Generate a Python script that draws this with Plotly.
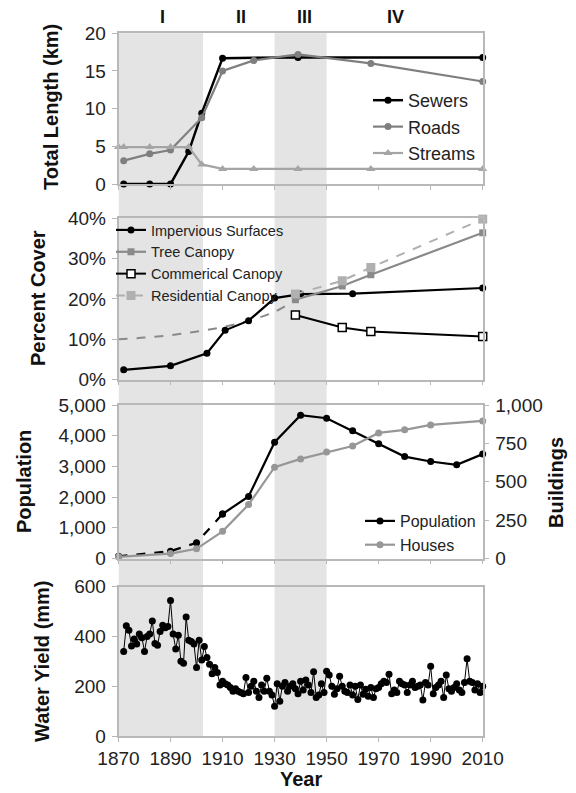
import plotly.graph_objects as go

W, H = 576, 793
OFF = 8  # page body margin of the html page
FONT = "Liberation Sans, Arial, sans-serif"

# ---------------- data ----------------
# Panel 1: total length (km)
sewer_years = [1872, 1882, 1890, 1897, 1902, 1910, 1939, 2010]
sewer_km = [0, 0, 0, 4.3, 9.4, 16.7, 16.8, 16.8]
road_years = [1872, 1882, 1890, 1902, 1910, 1922, 1939, 1967, 2010]
road_km = [3.1, 4.0, 4.5, 8.8, 15.0, 16.4, 17.2, 16.0, 13.6]
stream_years = [1870, 1872, 1882, 1890, 1897, 1902, 1910, 1922, 1939, 1967, 2010]
stream_km = [4.9, 4.9, 4.9, 4.9, 4.9, 2.6, 2.0, 2.0, 2.0, 2.0, 2.0]

# Panel 2: percent cover
imperv_years = [1872, 1890, 1904, 1911, 1920, 1930, 1940, 1960, 2010]
imperv_pct = [2.4, 3.4, 6.5, 12.2, 14.6, 20.2, 21.2, 21.3, 22.7]
tree_years = [1938, 1956, 1967, 2010]
tree_pct = [19.8, 23.2, 26.0, 36.4]
tree_early_years = [1870, 1880, 1890, 1900, 1910, 1920, 1930, 1938]
tree_early_pct = [10.0, 10.4, 11.0, 11.9, 13.0, 14.6, 16.8, 19.8]
comm_years = [1938, 1956, 1967, 2010]
comm_pct = [16.0, 12.9, 11.9, 10.7]
resid_years = [1938, 1956, 1967, 2010]
resid_pct = [21.2, 24.5, 27.8, 39.8]

# Panel 3: population and houses
pop_years = [1870, 1890, 1900, 1910, 1920, 1930, 1940, 1950, 1960, 1970, 1980, 1990, 2000, 2010]
population = [70, 240, 510, 1450, 2020, 3790, 4670, 4570, 4160, 3740, 3320, 3160, 3050, 3400]
house_years = [1870, 1890, 1900, 1910, 1920, 1930, 1940, 1950, 1960, 1970, 1980, 1990, 2010]
houses = [11, 32, 63, 177, 351, 595, 649, 693, 733, 818, 838, 870, 896]

# Panel 4: annual water yield (mm), 1872-2010
wy_start = 1872
water_yield = [
    340, 443, 425, 362, 390, 370, 410, 395, 340, 400,   # 1872-1881
    410, 462, 372, 365, 420, 445, 435, 440, 545, 410,   # 1882-1891
    350, 405, 300, 292, 478, 385, 380, 370, 275, 385,   # 1892-1901
    305, 360, 315, 288, 250, 275, 255, 205, 220, 210,   # 1902-1911
    205, 195, 180, 190, 180, 175, 170, 235, 175, 200,   # 1912-1921
    220, 180, 155, 205, 180, 232, 180, 165, 120, 210,   # 1922-1931
    140, 200, 215, 180, 200, 210, 190, 170, 220, 185,   # 1932-1941
    225, 205, 175, 258, 155, 165, 210, 175, 260, 245,   # 1942-1951
    200, 168, 190, 240, 200, 180, 175, 205, 165, 200,   # 1952-1961
    147, 205, 168, 188, 160, 195, 155, 190, 195, 210,   # 1962-1971
    220, 215, 248, 170, 185, 175, 220, 210, 205, 175,   # 1972-1981
    205, 220, 195, 200, 205, 145, 215, 205, 280, 170,   # 1982-1991
    195, 205, 220, 155, 245, 190, 180, 195, 210, 185,   # 1992-2001
    175, 215, 310, 220, 215, 185, 210, 175, 200,        # 2002-2010
]
wy_years = [wy_start + i for i in range(len(water_yield))]

period_labels = ["I", "II", "III", "IV"]
period_label_years = [1887, 1917, 1941.5, 1976.5]
shade_periods = [(1870, 1902.5), (1930, 1950)]

# ---------------- layout geometry (screen pixels -> paper fractions) ----------------
def px_x(p):
    return (p - OFF) / W

def px_y(p):
    return 1 - (p - OFF) / H

xd = [px_x(118.5), px_x(482.7)]
dom1 = [px_y(184), px_y(33.3)]
dom2 = [px_y(379.5), px_y(218.3)]
dom3 = [px_y(558.5), px_y(405)]
dom4 = [px_y(736), px_y(586.7)]

AX = "#b8b8b8"
BLACK = "#000000"
ROAD = "#7f7f7f"
STREAM = "#a5a5a5"
TREE = "#8a8a8a"
RESID = "#b0b0b0"
HOUSE = "#979797"

fig = go.Figure()

# Panel 1
fig.add_trace(go.Scatter(x=sewer_years, y=sewer_km, name="Sewers", mode="lines+markers",
                         line=dict(color=BLACK, width=2.5), marker=dict(symbol="circle", size=7, color=BLACK),
                         xaxis="x", yaxis="y", legend="legend", cliponaxis=False))
fig.add_trace(go.Scatter(x=road_years, y=road_km, name="Roads", mode="lines+markers",
                         line=dict(color=ROAD, width=2.2), marker=dict(symbol="circle", size=7, color=ROAD),
                         xaxis="x", yaxis="y", legend="legend", cliponaxis=False))
fig.add_trace(go.Scatter(x=stream_years, y=stream_km, name="Streams", mode="lines+markers",
                         line=dict(color=STREAM, width=2.2), marker=dict(symbol="triangle-up", size=8, color=STREAM),
                         xaxis="x", yaxis="y", legend="legend", cliponaxis=False))

# Panel 2
fig.add_trace(go.Scatter(x=tree_early_years, y=tree_early_pct, mode="lines", showlegend=False,
                         line=dict(color=TREE, width=2, dash="dash", shape="spline"),
                         xaxis="x2", yaxis="y2", cliponaxis=False))
fig.add_trace(go.Scatter(x=imperv_years, y=imperv_pct, name="Impervious Surfaces", mode="lines+markers",
                         line=dict(color=BLACK, width=2.2), marker=dict(symbol="circle", size=7, color=BLACK),
                         xaxis="x2", yaxis="y2", legend="legend2", cliponaxis=False))
fig.add_trace(go.Scatter(x=tree_years, y=tree_pct, name="Tree Canopy", mode="lines+markers",
                         line=dict(color=TREE, width=2.2), marker=dict(symbol="square", size=7, color=TREE),
                         xaxis="x2", yaxis="y2", legend="legend2", cliponaxis=False))
fig.add_trace(go.Scatter(x=comm_years, y=comm_pct, name="Commerical Canopy", mode="lines+markers",
                         line=dict(color=BLACK, width=2),
                         marker=dict(symbol="square", size=8, color="white", line=dict(color=BLACK, width=1.5)),
                         xaxis="x2", yaxis="y2", legend="legend2", cliponaxis=False))
fig.add_trace(go.Scatter(x=resid_years, y=resid_pct, name="Residential Canopy", mode="lines+markers",
                         line=dict(color=RESID, width=2, dash="dash"),
                         marker=dict(symbol="square", size=9, color=RESID),
                         xaxis="x2", yaxis="y2", legend="legend2", cliponaxis=False))

# Panel 3
n_dash = pop_years.index(1910) + 1
fig.add_trace(go.Scatter(x=pop_years[:n_dash], y=population[:n_dash], mode="lines+markers", showlegend=False,
                         line=dict(color=BLACK, width=2.2, dash="dash"), marker=dict(symbol="circle", size=7, color=BLACK),
                         xaxis="x3", yaxis="y3", cliponaxis=False))
fig.add_trace(go.Scatter(x=pop_years[n_dash - 1:], y=population[n_dash - 1:], name="Population", mode="lines+markers",
                         line=dict(color=BLACK, width=2.2), marker=dict(symbol="circle", size=7, color=BLACK),
                         xaxis="x3", yaxis="y3", legend="legend3", cliponaxis=False))
fig.add_trace(go.Scatter(x=house_years, y=houses, name="Houses", mode="lines+markers",
                         line=dict(color=HOUSE, width=2.2), marker=dict(symbol="circle", size=7, color=HOUSE),
                         xaxis="x3", yaxis="y5", legend="legend3", cliponaxis=False))

# Panel 4
fig.add_trace(go.Scatter(x=wy_years, y=water_yield, mode="lines+markers", showlegend=False,
                         line=dict(color=BLACK, width=1), marker=dict(symbol="circle", size=7, color=BLACK),
                         xaxis="x4", yaxis="y4", cliponaxis=False))

tickfont = dict(family=FONT, size=19, color="#222")

def xax(domain_anchor, labels):
    return dict(domain=xd, anchor=domain_anchor, range=[1870, 2010], tick0=1870, dtick=20,
                showticklabels=labels, ticks="outside", ticklen=4, tickcolor=AX, tickwidth=1.2,
                showline=True, linecolor=AX, linewidth=1.5, mirror=True, showgrid=False, zeroline=False,
                tickfont=tickfont, ticklabelstandoff=0, automargin=False)

def yax(dom, anchor, rng, dtick, **kw):
    d = dict(domain=dom, anchor=anchor, range=rng, dtick=dtick, ticks="outside", ticklen=5, tickcolor=AX,
             tickwidth=1.2, showline=True, linecolor=AX, linewidth=1.5, mirror=True, showgrid=False,
             zeroline=False, tickfont=tickfont, ticklabelstandoff=2, automargin=False)
    d.update(kw)
    return d

shapes = []
for (a, b) in shade_periods:
    shapes.append(dict(type="rect", xref="x4", yref="paper", x0=a, x1=b, y0=px_y(736), y1=px_y(33.3),
                       fillcolor="#e4e4e4", line=dict(width=0), layer="below"))

annotations = []
for lab, yr in zip(period_labels, period_label_years):
    annotations.append(dict(text="<b>%s</b>" % lab, x=yr, y=px_y(17), xref="x", yref="paper",
                            xanchor="center", yanchor="middle",
                            showarrow=False, font=dict(family=FONT, size=18, color="#111")))

def ytitle(text, xpx, ypx, angle=-90):
    return dict(text="<b>%s</b>" % text, x=px_x(xpx), y=px_y(ypx), xref="paper", yref="paper",
                xanchor="center", yanchor="middle",
                showarrow=False, textangle=angle, font=dict(family=FONT, size=20, color="#111"))

annotations += [
    ytitle("Total Length (km)", 51, 107),
    ytitle("Percent Cover", 38, 298),
    ytitle("Population", 24, 482),
    ytitle("Buildings", 556, 483),
    ytitle("Water Yield (mm)", 42, 661),
    ytitle("Year", (118.5 + 482.7) / 2, 779, angle=0),
]

legend_common = dict(bgcolor="rgba(0,0,0,0)", borderwidth=0, xanchor="left", yanchor="top",
                     itemwidth=30, traceorder="normal")

fig.update_layout(
    width=W, height=H, margin=dict(l=0, r=0, t=0, b=0, pad=0, autoexpand=False),
    paper_bgcolor="white", plot_bgcolor="rgba(0,0,0,0)",
    font=dict(family=FONT, color="#222"),
    xaxis=xax("y", False),
    xaxis2=xax("y2", False),
    xaxis3=xax("y3", False),
    xaxis4=xax("y4", True),
    yaxis=yax(dom1, "x", [0, 20], 5),
    yaxis2=yax(dom2, "x2", [0, 40], 10, ticksuffix="%"),
    yaxis3=yax(dom3, "x3", [0, 5000], 1000, tickformat=","),
    yaxis5=dict(overlaying="y3", side="right", anchor="x3", range=[0, 1000], dtick=250, tickformat=",",
                ticks="outside", ticklen=5, tickcolor=AX, showline=True, linecolor=AX, linewidth=1.5,
                showgrid=False, zeroline=False, tickfont=tickfont, ticklabelstandoff=2, automargin=False),
    yaxis4=yax(dom4, "x4", [0, 600], 200),
    legend=dict(x=px_x(368), y=px_y(82), font=dict(family=FONT, size=18, color="#222"), **legend_common),
    legend2=dict(x=px_x(111), y=px_y(214), font=dict(family=FONT, size=14.5, color="#222"), **legend_common),
    legend3=dict(x=px_x(360), y=px_y(504), font=dict(family=FONT, size=16, color="#222"), **legend_common),
    shapes=shapes,
    annotations=annotations,
    showlegend=True,
)

fig.write_html("out.html")
